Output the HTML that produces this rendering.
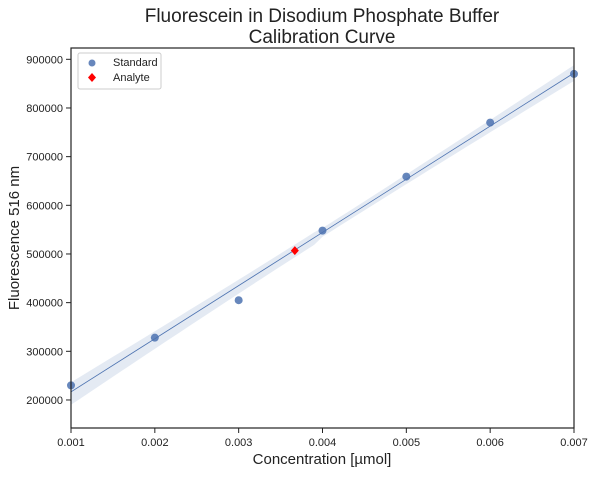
<!DOCTYPE html>
<html><head><meta charset="utf-8"><style>
body{margin:0;background:#fff;font-family:"Liberation Sans",sans-serif}
svg text{font-family:"Liberation Sans",sans-serif;fill:#222}
</style></head><body>
<svg id="c" width="594" height="473">
<text x="322" y="22" font-size="19" text-anchor="middle">Fluorescein in Disodium Phosphate Buffer</text>
<text x="322" y="43" font-size="19" text-anchor="middle">Calibration Curve</text>
<text x="322" y="464" font-size="15" text-anchor="middle">Concentration [µmol]</text>
<text transform="translate(19,238) rotate(-90)" font-size="15" text-anchor="middle">Fluorescence 516 nm</text>
<g id="plot"></g>
</svg>
<script>
const xTicks=[0.001,0.002,0.003,0.004,0.005,0.006,0.007];
const yTicks=[200000,300000,400000,500000,600000,700000,800000,900000];
const stdX=[0.001,0.002,0.003,0.004,0.005,0.006,0.007];
const stdY=[230000,328000,405000,548000,659000,770000,870000];
const analyteX=[0.00367];
const analyteY=[507000];
const L=71,R=574,T=48,B=428;
const x0=0.001,x1=0.007,y0=142400,y1=923250;
const sx=v=>L+(v-x0)/(x1-x0)*(R-L);
const sy=v=>B-(v-y0)/(y1-y0)*(B-T);
const g=document.getElementById('plot');
const NS='http://www.w3.org/2000/svg';
function mk(t,a){const e=document.createElementNS(NS,t);for(const k in a)e.setAttribute(k,a[k]);g.appendChild(e);return e;}
const n=stdX.length,mx=stdX.reduce((a,b)=>a+b)/n,my=stdY.reduce((a,b)=>a+b)/n;
let sxx=0,sxy=0;for(let i=0;i<n;i++){sxx+=(stdX[i]-mx)**2;sxy+=(stdX[i]-mx)*(stdY[i]-my);}
const b=sxy/sxx,a=my-b*mx;
let sse=0;for(let i=0;i<n;i++)sse+=(stdY[i]-a-b*stdX[i])**2;
const se=Math.sqrt(sse/(n-2)),t=2.2;
let up=[],dn=[];
for(let k=0;k<=60;k++){const xv=x0+(x1-x0)*k/60;const f=a+b*xv;const h=t*se*Math.sqrt(1/n+(xv-mx)**2/sxx);up.push(sx(xv)+','+sy(f+h*(xv<mx?0.85:0.7)));dn.unshift(sx(xv)+','+sy(f-h*(xv<mx?1.15:0.7)));}
const band=mk('polygon',{points:up.concat(dn).join(' '),fill:'#4c72b0','fill-opacity':0.15});


const line=mk('line',{x1:sx(x0),y1:sy(a+b*x0),x2:sx(x1),y2:sy(a+b*x1),stroke:'#4c72b0','stroke-width':0.8});


for(let i=0;i<n;i++){const c=mk('circle',{cx:sx(stdX[i]),cy:sy(stdY[i]),r:4,fill:'#4c72b0','fill-opacity':0.85});

}
for(let i=0;i<analyteX.length;i++){const X=sx(analyteX[i]),Y=sy(analyteY[i]);
const d=mk('polygon',{points:`${X},${Y-4.5} ${X+4},${Y} ${X},${Y+4.5} ${X-4},${Y}`,fill:'red'});

}
const fr=mk('rect',{x:L,y:T,width:R-L,height:B-T,fill:'none',stroke:'#222','stroke-width':1.2});


xTicks.forEach(v=>{const X=sx(v);mk('line',{x1:X,y1:B,x2:X,y2:B+5,stroke:'#222'});
const tx=mk('text',{x:X,y:B+18,'font-size':11,'text-anchor':'middle'});tx.textContent=v.toFixed(3);

});
yTicks.forEach(v=>{const Y=sy(v);mk('line',{x1:L-5,y1:Y,x2:L,y2:Y,stroke:'#222'});
const tx=mk('text',{x:L-8,y:Y+4,'font-size':11,'text-anchor':'end'});tx.textContent=v;

});
const lg=mk('rect',{x:78,y:53,width:83,height:36,fill:'#fff',stroke:'#ccc',rx:2});


mk('circle',{cx:92,cy:63,r:3.5,fill:'#4c72b0','fill-opacity':0.85});
const l1=mk('text',{x:113,y:66,'font-size':11});l1.textContent='Standard';


mk('polygon',{points:'92,73 96,77.5 92,82 88,77.5',fill:'red'});
const l2=mk('text',{x:113,y:81,'font-size':11});l2.textContent='Analyte';


</script>
</body></html>
